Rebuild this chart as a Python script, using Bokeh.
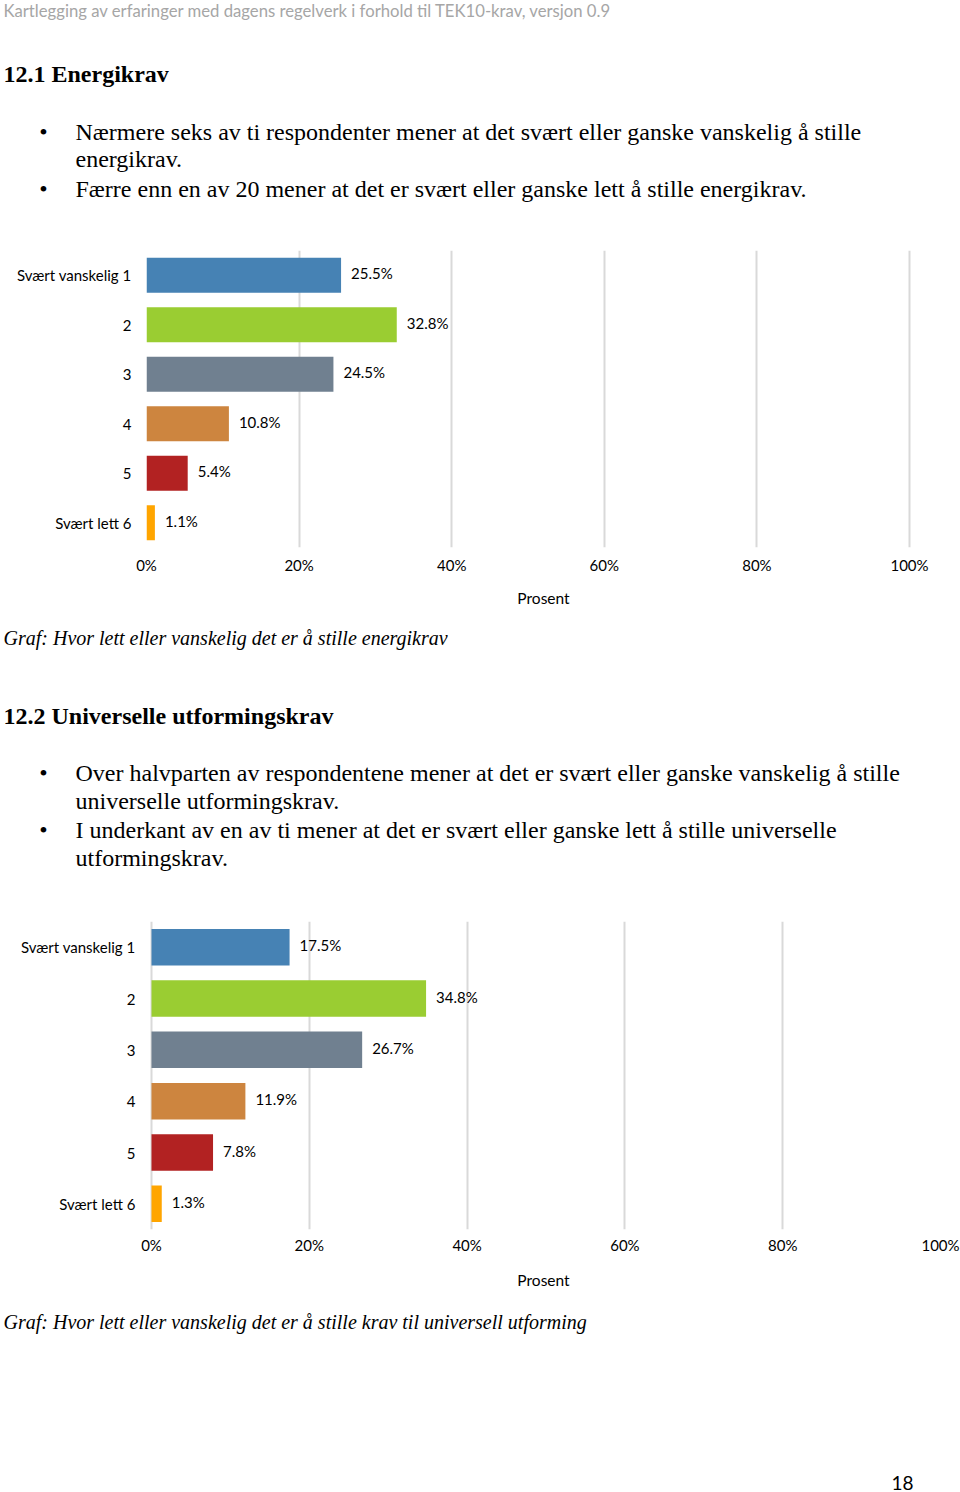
from bokeh.plotting import figure
from bokeh.layouts import column, row
from bokeh.models import Range1d, FactorRange, FixedTicker, ColumnDataSource
from bokeh.core.properties import value
from bokeh.embed import file_html
from bokeh.resources import INLINE

# ---------------- data ----------------
categories = ["Svært vanskelig 1", "2", "3", "4", "5", "Svært lett 6"]
energi = [25.5, 32.8, 24.5, 10.8, 5.4, 1.1]
universell = [17.5, 34.8, 26.7, 11.9, 7.8, 1.3]
bar_colors = ["steelblue", "yellowgreen", "slategray", "peru", "firebrick", "orange"]
x_ticks = [0, 20, 40, 60, 80, 100]
x_tick_labels = ["0%", "20%", "40%", "60%", "80%", "100%"]
axis_title = "Prosent"

header = "Kartlegging av erfaringer med dagens regelverk i forhold til TEK10-krav, versjon 0.9"
heading1 = "12.1 Energikrav"
bullets1 = [
    ["Nærmere seks av ti respondenter mener at det svært eller ganske vanskelig å stille",
     "energikrav."],
    ["Færre enn en av 20 mener at det er svært eller ganske lett å stille energikrav."],
]
caption1 = "Graf: Hvor lett eller vanskelig det er å stille energikrav"
heading2 = "12.2 Universelle utformingskrav"
bullets2 = [
    ["Over halvparten av respondentene mener at det er svært eller ganske vanskelig å stille",
     "universelle utformingskrav."],
    ["I underkant av en av ti mener at det er svært eller ganske lett å stille universelle",
     "utformingskrav."],
]
caption2 = "Graf: Hvor lett eller vanskelig det er å stille krav til universell utforming"
page_no = "18"

# ---------------- layout ----------------
W = 960
FL, FR = 146, 940          # common frame edges of the two charts
SERIF = "Liberation Serif"
SANS = "Lato"


def text_fig(h):
    p = figure(width=W, height=h, x_range=Range1d(0, W), y_range=Range1d(h, 0),
               output_backend="svg", toolbar_location=None,
               x_axis_location=None, y_axis_location=None, min_border=0)
    p.grid.visible = False
    p.outline_line_color = None
    return p


def put(p, x, y, txt, font=SERIF, size="24px", style="normal", color="black", align="left"):
    p.text(x=[x], y=[y], text=[txt], text_font=value(font), text_font_size=size,
           text_font_style=style, text_color=color, text_align=align, text_baseline="middle")


def bullets(p, ys, lines_groups):
    i = 0
    for grp in lines_groups:
        put(p, 43, ys[i], "\u2022", align="center")
        for line in grp:
            put(p, 75, ys[i], line)
            i += 1


def chart(vals, h, zero_px, full_px, top, bottom, cat_standoff, tick_standoff, label_standoff):
    # x-range chosen so that 0 % and 100 % land on the reference pixel columns
    ppu = (full_px - zero_px) / 100.0
    x0 = -(zero_px - FL) / ppu
    x1 = (FR - zero_px) / ppu
    src = ColumnDataSource(dict(cat=categories, val=vals, color=bar_colors,
                                label=[f"{v:.1f}%" for v in vals]))
    p = figure(width=W, height=h, y_range=FactorRange(*reversed(categories), range_padding=0),
               x_range=Range1d(x0, x1), output_backend="svg", toolbar_location=None,
               min_border_left=FL, min_border_right=W - FR,
               min_border_top=top, min_border_bottom=bottom)
    p.hbar(y="cat", left=0, right="val", height=0.71, fill_color="color", line_color=None, source=src)
    p.text(x="val", y="cat", text="label", x_offset=10, y_offset=-2, text_baseline="middle",
           text_font=value(SANS), text_font_size="15px", text_color="black", source=src)
    p.outline_line_color = None
    p.ygrid.grid_line_color = None
    p.xgrid.grid_line_color = "#d9d9d9"
    p.xgrid.grid_line_width = 2
    p.xaxis.ticker = FixedTicker(ticks=x_ticks)
    p.xaxis.major_label_overrides = {t: s for t, s in zip(x_ticks, x_tick_labels)}
    p.xaxis.axis_label = axis_title
    p.xaxis.axis_label_text_font_style = "normal"
    p.xaxis.axis_label_text_font = SANS
    p.xaxis.axis_label_text_font_size = "15.5px"
    p.xaxis.axis_label_text_color = "black"
    p.xaxis.axis_label_standoff = label_standoff
    p.xaxis.major_label_standoff = tick_standoff
    for ax in (p.xaxis, p.yaxis):
        ax.axis_line_color = None
        ax.major_tick_line_color = None
        ax.minor_tick_line_color = None
        ax.major_tick_out = 0
        ax.major_tick_in = 0
        ax.major_label_text_font = SANS
        ax.major_label_text_font_size = "15px"
        ax.major_label_text_color = "black"
    p.yaxis.major_label_standoff = cat_standoff
    return p


# top text block: abs 0..245
fa = text_fig(245)
put(fa, 3, 10, header, font=SANS, size="16.7px", color="#a6a6a6")
put(fa, 3, 73, heading1, style="bold")
bullets(fa, [131, 158, 188], bullets1)

# chart 1: abs 245..615, plot y 250..547, 0% at x=146, 100% at x=909
fb = chart(energi, 370, 146, 909, 5, 68, 15, 8, 12)

# middle text block: abs 615..910
fc = text_fig(295)
put(fc, 3, 22, caption1, size="20px", style="italic")
put(fc, 3, 100, heading2, style="bold")
bullets(fc, [157, 185, 214, 242], bullets2)

# chart 2: abs 910..1300, plot y 921..1229, 0% at x=151, 100% at x=940
fd = chart(universell, 390, 151, 940, 11, 71, 11, 6, 14)

# bottom text block: abs 1300..1492
fe = text_fig(192)
put(fe, 3, 21, caption2, size="20px", style="italic")
put(fe, 902, 182, page_no, font=SANS, size="19px", align="center")

layout = column(row(fa), fb, row(fc), fd, row(fe), spacing=0)
open("out.html", "w").write(file_html(layout, INLINE))
